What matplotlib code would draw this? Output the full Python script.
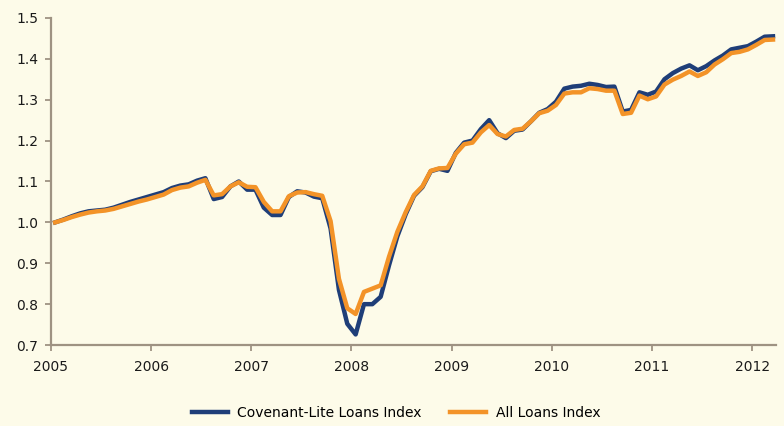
import numpy as np
import matplotlib
matplotlib.use('Agg')
from matplotlib import pyplot as plt

# monthly index values, Jan 2005 - Mar 2012
cov_lite = [1.000, 1.007, 1.015, 1.022, 1.027, 1.029, 1.031, 1.036, 1.043, 1.050, 1.056, 1.062,
            1.068, 1.074, 1.084, 1.090, 1.093, 1.102, 1.108, 1.057, 1.062, 1.088, 1.100, 1.080,
            1.080, 1.036, 1.018, 1.018, 1.062, 1.076, 1.073, 1.063, 1.059, 0.985, 0.835, 0.752,
            0.726, 0.800, 0.800, 0.818, 0.895, 0.966, 1.020, 1.065, 1.086, 1.125, 1.131, 1.126,
            1.170, 1.195, 1.200, 1.228, 1.250, 1.218, 1.206, 1.224, 1.227, 1.247, 1.268, 1.277,
            1.295, 1.327, 1.332, 1.334, 1.339, 1.336, 1.331, 1.332, 1.271, 1.275, 1.318, 1.312,
            1.320, 1.350, 1.365, 1.376, 1.384, 1.372, 1.382, 1.396, 1.408, 1.423, 1.427, 1.431,
            1.442, 1.454, 1.455]
all_loans = [1.000, 1.006, 1.013, 1.019, 1.024, 1.027, 1.029, 1.033, 1.039, 1.045, 1.051, 1.056,
             1.062, 1.068, 1.079, 1.085, 1.088, 1.097, 1.104, 1.066, 1.069, 1.088, 1.098, 1.087,
             1.086, 1.050, 1.027, 1.027, 1.064, 1.073, 1.074, 1.069, 1.065, 1.003, 0.862, 0.790,
             0.776, 0.830, 0.838, 0.846, 0.916, 0.977, 1.025, 1.067, 1.088, 1.126, 1.132, 1.133,
             1.168, 1.191, 1.195, 1.220, 1.238, 1.216, 1.210, 1.226, 1.229, 1.247, 1.267, 1.273,
             1.287, 1.315, 1.318, 1.318, 1.328, 1.326, 1.322, 1.322, 1.265, 1.268, 1.310, 1.301,
             1.308, 1.337, 1.349, 1.358, 1.369, 1.358, 1.367, 1.386, 1.399, 1.414, 1.417, 1.423,
             1.434, 1.446, 1.447]
years = [2005, 2006, 2007, 2008, 2009, 2010, 2011, 2012]
yticks = [0.7, 0.8, 0.9, 1.0, 1.1, 1.2, 1.3, 1.4, 1.5]

# mid-month positions
t = 2005 + (np.arange(len(cov_lite)) + 0.5) / 12

bg = '#FDFBE9'
axis_col = '#9E9282'
plt.rcParams['font.family'] = ['DejaVu Sans']

fig = plt.figure(figsize=(7.84, 4.26), dpi=100, facecolor=bg)
ax = fig.add_axes([0.065, 0.19, 0.925, 0.768])
ax.set_facecolor(bg)

ax.plot(t, cov_lite, color='#1F3E78', lw=3.2, label='Covenant-Lite Loans Index', solid_joinstyle='round')
ax.plot(t, all_loans, color='#F39328', lw=3.2, label='All Loans Index', solid_joinstyle='round')

ax.set_xlim(2005, 2012.24)
ax.set_ylim(0.7, 1.5)
ax.set_xticks(years)
ax.set_xticklabels([str(y) for y in years])
ax.set_yticks(yticks)
ax.set_yticklabels(['%.1f' % v for v in yticks])

for s in ['top', 'right']:
    ax.spines[s].set_visible(False)
for s in ['left', 'bottom']:
    ax.spines[s].set_color(axis_col)
    ax.spines[s].set_linewidth(1.6)
ax.tick_params(axis='both', colors=axis_col, length=4, width=1.3, labelsize=10,
               labelcolor='#1A1A1A')
ax.tick_params(axis='x', pad=7)
ax.tick_params(axis='y', pad=5)

fig.legend(loc='lower center', bbox_to_anchor=(0.505, -0.015), ncol=2, frameon=False,
           fontsize=10, handlelength=2.6, columnspacing=2.0, handletextpad=0.7)

fig.savefig('out.png', dpi=100, facecolor=bg)
